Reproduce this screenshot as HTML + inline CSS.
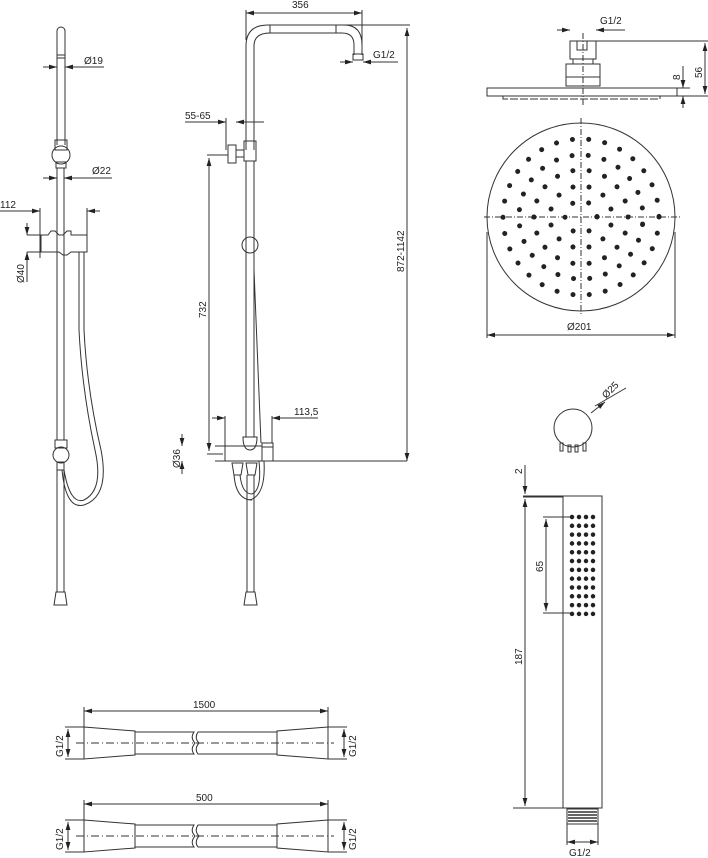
<!DOCTYPE html>
<html><head><meta charset="utf-8"><style>
html,body{margin:0;padding:0;background:#fff;}
svg{display:block;}
text{font-family:"Liberation Sans",sans-serif;font-size:10px;fill:#222;}
</style></head><body>
<svg width="708" height="858" viewBox="0 0 708 858" xmlns="http://www.w3.org/2000/svg">
<defs>
<marker id="a" viewBox="0 0 10 6" refX="10" refY="3" markerWidth="8" markerHeight="5" orient="auto-start-reverse"><path d="M0,0 L10,3 L0,6 z" fill="#222"/></marker>
</defs>
<g fill="none" stroke="#333" stroke-width="1">
<!-- LEFT COLUMN -->
<path d="M57,145 V31 A4,4 0 0 1 65,31 V145"/>
<line x1="57" y1="55" x2="65" y2="55"/><line x1="57" y1="58" x2="65" y2="58"/>
<rect x="55" y="140" width="12" height="10"/>
<circle cx="61" cy="155" r="9"/>
<rect x="56" y="162" width="10" height="6"/>
<line x1="57" y1="168" x2="57" y2="440"/><line x1="64" y1="168" x2="64" y2="440"/>
<path d="M41,235 H48 L51,231 H55 L59,235 H63 L67,231 H71 V235 H87 V252 H71 L67,255 H63 L59,252 H55 L51,252 H41 Z"/>
<path d="M79,252 V330 Q82,390 95,450 Q104,490 84,500 Q70,505 64,470"/>
<path d="M84,252 V330 Q87,390 101,450 Q110,496 84,505 Q66,510 62,470"/>
<rect x="55" y="440" width="12" height="8"/>
<circle cx="61" cy="455" r="8"/>
<rect x="57" y="462" width="7" height="8"/>
<line x1="57" y1="470" x2="57" y2="592"/><line x1="64" y1="470" x2="64" y2="592"/>
<path d="M56,592 H65 L67,605 H54 Z"/>
<!-- left dims -->
<line x1="43" y1="67" x2="57" y2="67" marker-end="url(#a)"/><line x1="65" y1="67" x2="104" y2="67" marker-start="url(#a)"/>
<line x1="43" y1="178" x2="57" y2="178" marker-end="url(#a)"/><line x1="64" y1="178" x2="112" y2="178" marker-start="url(#a)"/>
<line x1="40" y1="208" x2="40" y2="258"/><line x1="87" y1="208" x2="87" y2="252"/>
<line x1="0" y1="211" x2="40" y2="211" marker-end="url(#a)"/><line x1="87" y1="211" x2="100" y2="211" marker-start="url(#a)"/>
<line x1="27" y1="235" x2="40" y2="235"/><line x1="27" y1="252" x2="40" y2="252"/>
<line x1="27" y1="223" x2="27" y2="235" marker-end="url(#a)"/><line x1="27" y1="252" x2="27" y2="282" marker-start="url(#a)"/>

<!-- MIDDLE COLUMN -->
<path d="M246,150 V46 Q246,25 268,25 H344 Q362,25 362,45 V55"/>
<path d="M254,150 V46 Q254,33 270,33 H342 Q354,33 354,45 V55"/>
<line x1="270" y1="25" x2="270" y2="33"/><line x1="336" y1="25" x2="336" y2="33"/>
<rect x="353" y="54" width="10" height="6"/>
<rect x="244" y="141" width="12" height="20"/>
<rect x="236" y="150" width="8" height="7"/>
<rect x="228" y="145" width="8" height="18"/>
<line x1="246" y1="161" x2="246" y2="437"/><line x1="254" y1="161" x2="254" y2="437"/>
<circle cx="250" cy="245" r="8"/>
<line x1="254" y1="270" x2="261" y2="443"/>
<path d="M243,437 Q243,450 250,450 Q257,450 257,437 Z"/>
<rect x="262" y="443" width="11" height="18"/>
<line x1="262" y1="447" x2="273" y2="447"/>
<line x1="215" y1="461" x2="407" y2="461"/>
<line x1="215" y1="446" x2="262" y2="446"/>
<path d="M232,463 H243 L241,475 H234 Z"/><path d="M246,463 H257 L255,475 H248 Z"/>
<path d="M234,475 Q236,500 252,500"/><path d="M240,475 Q242,494 252,494"/>
<path d="M264,461 Q266,495 250,500"/><path d="M259,461 Q262,490 252,494"/>
<line x1="247" y1="475" x2="247" y2="592"/><line x1="254" y1="475" x2="254" y2="592"/>
<path d="M246,592 H255 L257,605 H244 Z"/>
<!-- middle dims -->
<line x1="246" y1="10" x2="246" y2="40"/><line x1="362" y1="10" x2="362" y2="52"/>
<line x1="246" y1="13" x2="362" y2="13" marker-start="url(#a)" marker-end="url(#a)"/>
<line x1="344" y1="25" x2="410" y2="25"/>
<line x1="407" y1="28" x2="407" y2="461" marker-start="url(#a)" marker-end="url(#a)"/>
<line x1="340" y1="62" x2="353" y2="62" marker-end="url(#a)"/><line x1="363" y1="62" x2="398" y2="62" marker-start="url(#a)"/>
<line x1="185" y1="122" x2="226" y2="122" marker-end="url(#a)"/><line x1="236" y1="122" x2="264" y2="122" marker-start="url(#a)"/>
<line x1="226" y1="118" x2="226" y2="150"/>
<line x1="207" y1="155" x2="228" y2="155"/>
<line x1="209" y1="158" x2="209" y2="451" marker-start="url(#a)" marker-end="url(#a)"/>
<line x1="207" y1="454" x2="223" y2="454"/>
<line x1="225" y1="416" x2="225" y2="461"/><line x1="272" y1="416" x2="272" y2="443"/>
<line x1="212" y1="418" x2="225" y2="418" marker-end="url(#a)"/><line x1="272" y1="418" x2="318" y2="418" marker-start="url(#a)"/>
<line x1="182" y1="434" x2="182" y2="446" marker-end="url(#a)"/><line x1="182" y1="461" x2="182" y2="474" marker-start="url(#a)"/>

<!-- RIGHT TOP: head side -->
<rect x="570" y="41" width="26" height="18"/>
<rect x="577" y="41" width="10" height="9"/>
<rect x="573" y="59" width="20" height="5"/>
<rect x="566" y="64" width="34" height="22"/>
<line x1="566" y1="77" x2="600" y2="77"/>
<rect x="487" y="88" width="190" height="8"/>
<path d="M503,96 V99 H660 V96" stroke-dasharray="8 2"/>
<line x1="583" y1="33" x2="583" y2="105" stroke-dasharray="6 2 1 2"/>
<line x1="557" y1="30" x2="570" y2="30" marker-end="url(#a)"/><line x1="596" y1="30" x2="625" y2="30" marker-start="url(#a)"/>
<line x1="596" y1="41" x2="708" y2="41"/>
<line x1="677" y1="88" x2="690" y2="88"/><line x1="677" y1="96" x2="708" y2="96"/>
<line x1="705" y1="43" x2="705" y2="94" marker-start="url(#a)" marker-end="url(#a)"/>
<line x1="683" y1="66" x2="683" y2="88" marker-end="url(#a)"/><line x1="683" y1="96" x2="683" y2="108" marker-start="url(#a)"/>
<!-- round head -->
<circle cx="581" cy="217" r="94"/>
<line x1="581" y1="118" x2="581" y2="316" stroke-dasharray="6 2 1 2"/>
<line x1="484" y1="217" x2="680" y2="217" stroke-dasharray="6 2 1 2"/>
<line x1="487" y1="232" x2="487" y2="338"/><line x1="675" y1="232" x2="675" y2="338"/>
<line x1="487" y1="335" x2="675" y2="335" marker-start="url(#a)" marker-end="url(#a)"/>
</g>
<g fill="none" stroke="#222" stroke-width="5" stroke-linecap="round">
<circle cx="581" cy="217" r="16" pathLength="6" stroke-dasharray="0.001 0.999"/>
<circle cx="581" cy="217" r="31" pathLength="12" stroke-dasharray="0.001 0.999" transform="rotate(15 581 217)"/>
<circle cx="581" cy="217" r="47" pathLength="18" stroke-dasharray="0.001 0.999"/>
<circle cx="581" cy="217" r="62" pathLength="24" stroke-dasharray="0.001 0.999" transform="rotate(7 581 217)"/>
<circle cx="581" cy="217" r="78" pathLength="30" stroke-dasharray="0.001 0.999"/>
</g>
<g fill="none" stroke="#333" stroke-width="1">
<!-- knob -->
<circle cx="573" cy="428" r="19"/>
<rect x="560" y="443" width="3" height="8"/><rect x="568" y="445" width="3" height="7"/><rect x="575" y="445" width="3" height="7"/><rect x="583" y="443" width="3" height="8"/>
<line x1="595" y1="406" x2="626" y2="388"/><line x1="591" y1="413" x2="605" y2="402" marker-end="url(#a)"/>
<!-- handset -->
<rect x="563" y="496" width="39" height="312"/>
<line x1="523" y1="496" x2="602" y2="496"/>
<line x1="523" y1="497" x2="563" y2="497"/>
<line x1="513" y1="808" x2="563" y2="808"/>
<line x1="525" y1="465" x2="525" y2="494" marker-end="url(#a)"/>
<line x1="525" y1="499" x2="525" y2="806" marker-start="url(#a)" marker-end="url(#a)"/>
<line x1="543" y1="517" x2="571" y2="517"/><line x1="543" y1="613" x2="571" y2="613"/>
<line x1="546" y1="519" x2="546" y2="611" marker-start="url(#a)" marker-end="url(#a)"/>
<rect x="567" y="809" width="31" height="15"/>
<line x1="567" y1="824" x2="567" y2="845"/><line x1="598" y1="824" x2="598" y2="845"/>
<line x1="567" y1="842" x2="598" y2="842" marker-start="url(#a)" marker-end="url(#a)"/>
</g>
<g stroke="#333" stroke-width="1.5">
<line x1="568" y1="812" x2="597" y2="812"/><line x1="568" y1="815" x2="597" y2="815"/><line x1="568" y1="818" x2="597" y2="818"/><line x1="568" y1="821" x2="597" y2="821"/>
</g>
<g fill="none" stroke="#222" stroke-width="4.5" stroke-linecap="round">
<line x1="572" y1="517" x2="572" y2="614" stroke-dasharray="0.01 8.8"/>
<line x1="579" y1="517" x2="579" y2="614" stroke-dasharray="0.01 8.8"/>
<line x1="586" y1="517" x2="586" y2="614" stroke-dasharray="0.01 8.8"/>
<line x1="593" y1="517" x2="593" y2="614" stroke-dasharray="0.01 8.8"/>
</g>
<!-- HOSES -->
<g fill="none" stroke="#333" stroke-width="1">
<g id="h1">
<path d="M84,727 L135,731 V755 L84,759 Z"/>
<path d="M328,727 L277,731 V755 L328,759 Z"/>
<path d="M135,732 H194 Q190,738 195,743 Q190,749 194,754 H135"/>
<path d="M277,732 H198 Q194,738 199,743 Q194,749 198,754 H277"/>
<line x1="76" y1="743" x2="334" y2="743" stroke-dasharray="8 3 1 3"/>
<line x1="65" y1="727" x2="84" y2="727"/><line x1="65" y1="759" x2="84" y2="759"/>
<line x1="328" y1="727" x2="347" y2="727"/><line x1="328" y1="759" x2="347" y2="759"/>
<line x1="68" y1="729" x2="68" y2="757" marker-start="url(#a)" marker-end="url(#a)"/>
<line x1="344" y1="729" x2="344" y2="757" marker-start="url(#a)" marker-end="url(#a)"/>
</g>
<line x1="84" y1="707" x2="84" y2="727"/><line x1="328" y1="707" x2="328" y2="727"/>
<line x1="84" y1="711" x2="328" y2="711" marker-start="url(#a)" marker-end="url(#a)"/>
<use href="#h1" transform="translate(0,93)"/>
<line x1="84" y1="800" x2="84" y2="820"/><line x1="328" y1="800" x2="328" y2="820"/>
<line x1="84" y1="804" x2="328" y2="804" marker-start="url(#a)" marker-end="url(#a)"/>
</g>
<!-- TEXT -->
<text x="84" y="64">Ø19</text>
<text x="92" y="174">Ø22</text>
<text x="0" y="208">112</text>
<text transform="translate(24,283) rotate(-90)">Ø40</text>
<text x="292" y="8">356</text>
<text x="373" y="58">G1/2</text>
<text transform="translate(404,272) rotate(-90)">872-1142</text>
<text x="185" y="119">55-65</text>
<text transform="translate(206,318) rotate(-90)">732</text>
<text x="294" y="415">113,5</text>
<text transform="translate(180,468) rotate(-90)">Ø36</text>
<text x="600" y="24">G1/2</text>
<text transform="translate(680,80) rotate(-90)">8</text>
<text transform="translate(702,78) rotate(-90)">56</text>
<text x="567" y="330">Ø201</text>
<text transform="translate(606,399) rotate(-45)">Ø25</text>
<text transform="translate(522,474) rotate(-90)">2</text>
<text transform="translate(543,572) rotate(-90)">65</text>
<text transform="translate(522,665) rotate(-90)">187</text>
<text x="569" y="856">G1/2</text>
<text x="193" y="708">1500</text>
<text x="196" y="801">500</text>
<text transform="translate(63,757) rotate(-90)">G1/2</text>
<text transform="translate(356,757) rotate(-90)">G1/2</text>
<text transform="translate(63,850) rotate(-90)">G1/2</text>
<text transform="translate(356,850) rotate(-90)">G1/2</text>
</svg>
</body></html>
